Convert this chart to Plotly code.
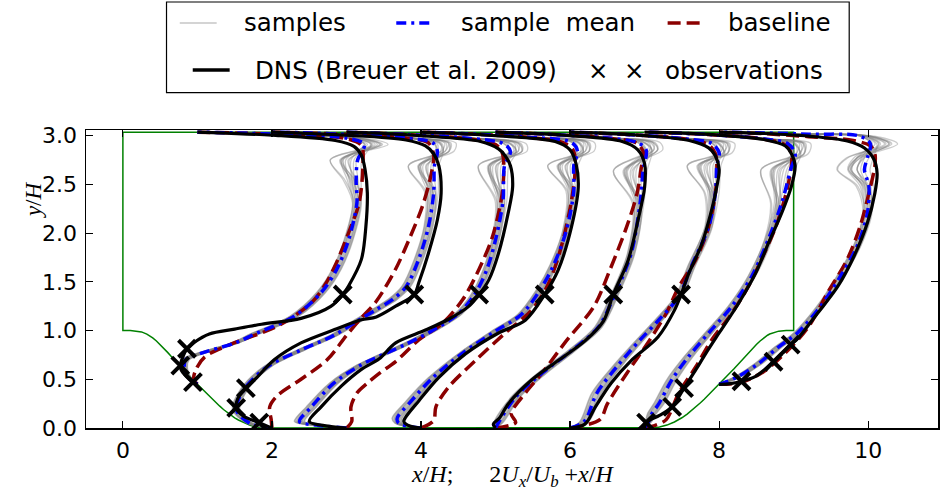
import plotly.graph_objects as go

# ---------------- data ----------------
TOP_Y = 3.036
HILL_X = [0.0, 0.1, 0.2, 0.25, 0.3214, 0.35, 0.4, 0.45, 0.5, 0.55, 0.6, 0.65, 0.7143, 0.75, 0.8, 0.85,
          0.9, 0.95, 1.0, 1.0714, 1.1, 1.2, 1.25, 1.3, 1.35, 1.4286, 1.5, 1.55, 1.6, 1.7, 1.75, 1.8, 1.85, 1.929]
HILL_Y = [1.0, 1.0, 0.994, 0.986, 0.964, 0.952, 0.925, 0.893, 0.857, 0.818, 0.776, 0.734, 0.679, 0.648, 0.607,
          0.566, 0.527, 0.487, 0.448, 0.393, 0.371, 0.295, 0.259, 0.224, 0.190, 0.143, 0.105, 0.082, 0.062,
          0.030, 0.018, 0.0096, 0.0036, 0.0]
HILL_PERIOD = 9.0

# DNS profiles (2Ux/Ub + x/H, y/H)
DNS_X = [
    [1.0, 0.94, 0.85, 0.78, 0.77, 0.8, 0.86, 0.96, 1.16, 1.5, 1.86, 2.39, 2.79, 2.95, 3.03, 3.2, 3.26, 3.28, 3.25, 3.2, 3.1, 2.85, 2.0, 1.4, 1.0],
    [2.0, 1.83, 1.62, 1.52, 1.54, 1.65, 1.8, 2.03, 2.39, 2.84, 3.2, 3.4, 3.66, 3.91, 3.97, 4.1, 4.22, 4.27, 4.24, 4.17, 4.06, 3.8, 3.0, 2.4, 2.0],
    [3.0, 2.75, 2.5, 2.66, 2.93, 3.2, 3.44, 3.66, 4.06, 4.37, 4.64, 4.78, 4.91, 5.04, 5.17, 5.23, 5.2, 5.13, 5.04, 4.8, 4.0, 3.5, 3.0],
    [4.0, 3.85, 3.77, 3.79, 3.97, 4.24, 4.6, 5.04, 5.4, 5.66, 5.84, 6.02, 6.11, 6.08, 6.0, 5.8, 5.0, 4.5, 4.0],
    [5.0, 4.97, 5.05, 5.17, 5.48, 5.84, 6.2, 6.45, 6.58, 6.78, 6.91, 7.0, 7.0, 6.91, 6.7, 6.0, 5.5, 5.0],
    [6.0, 6.2, 6.34, 6.55, 6.82, 7.18, 7.4, 7.49, 7.59, 7.77, 7.9, 7.97, 8.0, 7.95, 7.86, 7.6, 7.0, 6.5, 6.0],
    [7.0, 7.02, 7.2, 7.37, 7.53, 7.69, 7.82, 8.0, 8.26, 8.49, 8.66, 8.84, 8.97, 9.02, 8.97, 8.89, 8.6, 8.0, 7.5, 7.0],
    [8.0, 8.15, 8.3, 8.49, 8.73, 8.96, 9.05, 9.32, 9.59, 9.81, 9.99, 10.09, 10.12, 10.08, 9.95, 9.72, 9.2, 8.6, 8.0],
]
DNS_Y = [
    [0.448, 0.47, 0.53, 0.6, 0.64, 0.72, 0.813, 0.88, 0.965, 1.015, 1.065, 1.125, 1.248, 1.37, 1.46, 1.73, 2.065, 2.41, 2.65, 2.8, 2.89, 2.95, 3.005, 3.025, 3.036],
    [0.0, 0.055, 0.12, 0.207, 0.3, 0.41, 0.52, 0.7, 0.873, 1.01, 1.11, 1.14, 1.25, 1.37, 1.49, 1.793, 2.137, 2.41, 2.69, 2.814, 2.894, 2.955, 3.005, 3.025, 3.036],
    [0.0, 0.02, 0.066, 0.217, 0.43, 0.601, 0.71, 0.874, 1.005, 1.116, 1.248, 1.37, 1.52, 1.793, 2.207, 2.48, 2.692, 2.793, 2.864, 2.94, 3.0, 3.022, 3.036],
    [0.0, 0.02, 0.066, 0.106, 0.278, 0.52, 0.763, 0.975, 1.106, 1.37, 1.62, 2.066, 2.47, 2.712, 2.854, 2.94, 3.0, 3.022, 3.036],
    [0.0, 0.04, 0.1, 0.247, 0.49, 0.692, 0.894, 1.1, 1.37, 1.722, 2.127, 2.47, 2.712, 2.854, 2.94, 3.0, 3.022, 3.036],
    [0.0, 0.04, 0.217, 0.46, 0.692, 0.934, 1.207, 1.37, 1.581, 1.894, 2.238, 2.48, 2.652, 2.793, 2.874, 2.95, 3.0, 3.022, 3.036],
    [0.0, 0.056, 0.13, 0.217, 0.41, 0.601, 0.763, 0.975, 1.278, 1.59, 1.894, 2.207, 2.48, 2.692, 2.814, 2.894, 2.96, 3.005, 3.025, 3.036],
    [0.448, 0.455, 0.48, 0.53, 0.68, 0.855, 0.914, 1.177, 1.45, 1.763, 2.106, 2.41, 2.611, 2.753, 2.874, 2.945, 2.995, 3.022, 3.036],
]

# Baseline RANS profiles
BASE_X = [
    [1.0, 0.95, 0.98, 1.1, 1.45, 2.1, 2.55, 2.72, 2.85, 3.06, 3.17, 3.22, 3.2, 3.0, 2.2, 1.5, 1.0],
    [2.0, 1.99, 1.97, 2.07, 2.39, 2.74, 3.0, 3.2, 3.4, 3.66, 3.84, 4.02, 4.13, 4.17, 4.1, 3.8, 3.0, 2.5, 2.0],
    [3.0, 3.07, 3.06, 3.14, 3.28, 3.44, 3.66, 3.97, 4.29, 4.56, 4.78, 4.96, 5.09, 5.11, 5.09, 5.0, 4.6, 3.8, 3.0],
    [4.0, 4.17, 4.2, 4.37, 4.73, 5.13, 5.48, 5.71, 5.88, 6.02, 6.07, 6.04, 5.9, 5.4, 4.6, 4.0],
    [5.0, 5.27, 5.21, 5.40, 5.62, 5.96, 6.32, 6.54, 6.76, 6.9, 6.96, 6.99, 6.9, 6.5, 5.7, 5.0],
    [6.0, 6.4, 6.5, 6.76, 7.07, 7.29, 7.46, 7.69, 7.86, 7.95, 7.97, 7.95, 7.85, 7.5, 6.8, 6.0],
    [7.0, 7.15, 7.29, 7.46, 7.69, 7.9, 8.17, 8.39, 8.57, 8.76, 8.9, 8.97, 8.97, 8.9, 8.6, 7.9, 7.0],
    [8.0, 8.3, 8.6, 8.9, 9.2, 9.45, 9.72, 9.89, 10.01, 10.09, 10.09, 10.03, 9.8, 9.2, 8.6, 8.0],
]
BASE_Y = [
    [0.448, 0.5, 0.6, 0.73, 0.86, 1.055, 1.30, 1.48, 1.67, 2.066, 2.31, 2.69, 2.9, 2.97, 3.01, 3.028, 3.036],
    [0.0, 0.085, 0.217, 0.33, 0.5, 0.70, 0.95, 1.13, 1.30, 1.632, 1.935, 2.278, 2.58, 2.8, 2.925, 2.975, 3.012, 3.028, 3.036],
    [0.0, 0.066, 0.217, 0.359, 0.46, 0.56, 0.682, 0.904, 1.076, 1.318, 1.632, 1.965, 2.41, 2.692, 2.823, 2.91, 2.97, 3.012, 3.036],
    [0.0, 0.076, 0.217, 0.42, 0.692, 0.975, 1.207, 1.48, 1.854, 2.339, 2.682, 2.854, 2.93, 2.985, 3.02, 3.036],
    [0.0, 0.056, 0.146, 0.359, 0.56, 0.904, 1.247, 1.632, 2.066, 2.41, 2.692, 2.814, 2.92, 2.975, 3.015, 3.036],
    [0.0, 0.086, 0.247, 0.56, 0.904, 1.177, 1.45, 1.733, 2.066, 2.41, 2.692, 2.814, 2.91, 2.97, 3.01, 3.036],
    [0.0, 0.03, 0.086, 0.359, 0.631, 0.904, 1.177, 1.45, 1.733, 2.066, 2.41, 2.692, 2.814, 2.9, 2.965, 3.01, 3.036],
    [0.448, 0.47, 0.58, 0.78, 1.04, 1.38, 1.733, 2.066, 2.41, 2.692, 2.814, 2.894, 2.95, 2.99, 3.02, 3.036],
]

# Sample mean profiles, with the half-spread of the samples and their top wiggle
MEAN_X = [
    [1.0, 0.9, 0.83, 0.84, 1.03, 1.51, 1.77, 2.3, 2.66, 2.87, 3.03, 3.14, 3.13, 3.15, 3.24, 3.0, 2.2, 1.5, 1.0],
    [2.0, 1.7, 1.52, 1.63, 1.94, 2.39, 2.83, 3.15, 3.40, 3.62, 3.80, 3.97, 4.10, 4.17, 4.18, 4.22, 4.16, 3.8, 3.0, 2.5, 2.0],
    [3.0, 2.6, 2.37, 2.53, 2.83, 3.2, 3.45, 3.8, 4.2, 4.5, 4.72, 4.88, 5.0, 5.1, 5.12, 5.2, 5.1, 4.6, 3.8, 3.0],
    [4.0, 3.7, 3.68, 3.85, 4.15, 4.55, 5.0, 5.35, 5.6, 5.78, 5.95, 6.05, 6.05, 6.1, 6.02, 5.4, 4.6, 4.0],
    [5.0, 5.04, 5.27, 5.62, 6.02, 6.38, 6.6, 6.82, 6.94, 6.98, 7.02, 6.9, 6.5, 5.7, 5.0],
    [6.0, 6.19, 6.36, 6.63, 6.94, 7.2, 7.46, 7.63, 7.86, 7.95, 7.97, 8.0, 7.9, 7.5, 6.8, 6.0],
    [7.0, 7.05, 7.1, 7.19, 7.37, 7.59, 7.86, 8.17, 8.44, 8.66, 8.84, 8.96, 9.02, 8.92, 8.6, 7.9, 7.0],
    [8.0, 8.1, 8.26, 8.53, 8.8, 9.05, 9.36, 9.63, 9.85, 9.99, 10.01, 9.95, 9.99, 10.03, 9.89, 9.2, 8.6, 8.0],
]
MEAN_Y = [
    [0.448, 0.5, 0.6, 0.7, 0.763, 0.874, 0.965, 1.146, 1.39, 1.63, 1.935, 2.31, 2.54, 2.75, 2.91, 2.975, 3.01, 3.028, 3.036],
    [0.0, 0.05, 0.19, 0.4, 0.63, 0.8, 0.95, 1.1, 1.215, 1.32, 1.45, 1.733, 2.066, 2.41, 2.69, 2.84, 2.925, 2.975, 3.012, 3.028, 3.036],
    [0.0, 0.03, 0.066, 0.217, 0.46, 0.65, 0.74, 0.86, 1.02, 1.17, 1.37, 1.62, 1.93, 2.33, 2.69, 2.84, 2.92, 2.975, 3.012, 3.036],
    [0.0, 0.05, 0.1, 0.26, 0.51, 0.763, 0.995, 1.167, 1.42, 1.672, 2.026, 2.43, 2.692, 2.84, 2.93, 2.985, 3.02, 3.036],
    [0.0, 0.056, 0.318, 0.56, 0.793, 1.036, 1.37, 1.793, 2.309, 2.642, 2.854, 2.93, 2.975, 3.015, 3.036],
    [0.0, 0.066, 0.359, 0.631, 0.904, 1.116, 1.35, 1.662, 2.066, 2.41, 2.692, 2.824, 2.92, 2.97, 3.01, 3.036],
    [0.0, 0.06, 0.15, 0.247, 0.5, 0.732, 0.975, 1.248, 1.56, 1.935, 2.309, 2.652, 2.814, 2.92, 2.965, 3.01, 3.036],
    [0.448, 0.475, 0.53, 0.662, 0.833, 0.975, 1.248, 1.56, 1.864, 2.207, 2.48, 2.652, 2.773, 2.915, 2.995, 3.015, 3.028, 3.036],
]
SPREAD = [
    [0, 0.03, 0.04, 0.05, 0.05, 0.05, 0.06, 0.06, 0.06, 0.06, 0.06, 0.06, 0.08, 0.08, 0.08, 0.06, 0.03, 0.02, 0],
    [0, 0.04, 0.05, 0.05, 0.05, 0.05, 0.05, 0.06, 0.06, 0.06, 0.06, 0.06, 0.06, 0.07, 0.08, 0.08, 0.07, 0.05, 0.03, 0.02, 0],
    [0, 0.05, 0.07, 0.07, 0.06, 0.05, 0.05, 0.05, 0.05, 0.05, 0.05, 0.05, 0.05, 0.06, 0.08, 0.08, 0.07, 0.05, 0.03, 0],
    [0, 0.05, 0.07, 0.07, 0.06, 0.05, 0.05, 0.05, 0.05, 0.05, 0.05, 0.06, 0.08, 0.08, 0.07, 0.04, 0.02, 0],
    [0, 0.06, 0.06, 0.06, 0.05, 0.05, 0.05, 0.05, 0.06, 0.08, 0.08, 0.07, 0.05, 0.03, 0],
    [0, 0.06, 0.07, 0.06, 0.05, 0.05, 0.05, 0.05, 0.05, 0.06, 0.08, 0.08, 0.07, 0.05, 0.03, 0],
    [0, 0.04, 0.06, 0.07, 0.07, 0.06, 0.05, 0.05, 0.05, 0.05, 0.06, 0.08, 0.08, 0.07, 0.05, 0.03, 0],
    [0, 0.03, 0.04, 0.05, 0.05, 0.05, 0.05, 0.05, 0.05, 0.06, 0.08, 0.1, 0.1, 0.08, 0.05, 0.03, 0.02, 0],
]
BUMP = [
    [0, 0, 0, 0, 0, 0, 0, 0, 0, 0, 0, 0, -0.1, -0.32, 0.25, 0.2, 0.05, 0, 0],
    [0, 0, 0, 0, 0, 0, 0, 0, 0, 0, 0, 0, 0, -0.05, -0.3, 0.15, 0.25, 0.1, 0, 0, 0],
    [0, 0, 0, 0, 0, 0, 0, 0, 0, 0, 0, 0, 0, -0.05, -0.3, 0.15, 0.25, 0.1, 0, 0],
    [0, 0, 0, 0, 0, 0, 0, 0, 0, 0, 0, -0.05, -0.3, 0.15, 0.25, 0.05, 0, 0],
    [0, 0, 0, 0, 0, 0, 0, 0, -0.05, -0.35, 0.15, 0.25, 0.1, 0, 0],
    [0, 0, 0, 0, 0, 0, 0, 0, 0, -0.1, -0.35, 0.1, 0.25, 0.1, 0, 0],
    [0, 0, 0, 0, 0, 0, 0, 0, 0, 0, -0.1, -0.35, 0.1, 0.25, 0.1, 0, 0],
    [0, 0, 0, 0, 0, 0, 0, 0, 0, 0, -0.1, -0.3, -0.2, 0.3, 0.15, 0, 0, 0],
]
SAMPLE_W_SPREAD = [-1.0, -0.8, -0.6, -0.4, -0.2, 0.0, 0.2, 0.4, 0.6, 0.8, 1.0, -0.5, 0.5, -0.9, 0.9]
SAMPLE_W_BUMP = [0.9, 0.3, 1.0, 0.5, 0.1, 0.7, 0.4, 0.85, 0.2, 0.6, 0.95, 0.15, 0.75, 0.45, 0.05]

OBS_X = [0.86, 0.77, 0.94, 2.95, 1.83, 1.52, 1.65, 3.91, 4.78, 5.66, 6.58, 7.49, 7.02, 7.37, 7.53, 8.3, 8.73, 8.96]
OBS_Y = [0.813, 0.64, 0.47, 1.37, 0.055, 0.207, 0.41, 1.37, 1.37, 1.37, 1.37, 1.37, 0.056, 0.217, 0.41, 0.48, 0.68, 0.855]

X_TICKS = [0, 2, 4, 6, 8, 10]
Y_TICKS = [0.0, 0.5, 1.0, 1.5, 2.0, 2.5, 3.0]
X_RANGE = [-0.495, 10.937]
Y_RANGE = [0.0, 3.058]

LEGEND_LABELS = ["samples", "sample  mean", "baseline", "DNS (Breuer et al. 2009)", "observations"]

# ---------------- figure ----------------
W, H = 942, 501
ML, MR, MT, MB = 86, 2, 130, 73


def px(x):
    return (x - ML) / (W - ML - MR)


def py(y):
    return (H - MB - y) / (H - MT - MB)


def join(xs_list, ys_list):
    xs, ys = [], []
    for a, b in zip(xs_list, ys_list):
        xs += list(a) + [None]
        ys += list(b) + [None]
    return xs, ys


fig = go.Figure()

# geometry
gx = [0.0] + HILL_X + [HILL_PERIOD - h for h in reversed(HILL_X)] + [HILL_PERIOD, 0.0]
gy = [TOP_Y] + HILL_Y + list(reversed(HILL_Y)) + [TOP_Y, TOP_Y]
fig.add_trace(go.Scatter(x=gx, y=gy, mode="lines", line=dict(color="#008000", width=1.5),
                         showlegend=False, hoverinfo="skip"))

# samples
sx_list, sy_list = [], []
for k in range(len(MEAN_X)):
    for ws, wb in zip(SAMPLE_W_SPREAD, SAMPLE_W_BUMP):
        sx_list.append([m + ws * s + wb * b for m, s, b in zip(MEAN_X[k], SPREAD[k], BUMP[k])])
        sy_list.append(MEAN_Y[k])
sx, sy = join(sx_list, sy_list)
fig.add_trace(go.Scatter(x=sx, y=sy, mode="lines",
                         line=dict(color="rgba(128,128,128,0.4)", width=1.3, shape="spline", smoothing=0.9),
                         showlegend=False, hoverinfo="skip"))

bx, by = join(BASE_X, BASE_Y)
fig.add_trace(go.Scatter(x=bx, y=by, mode="lines",
                         line=dict(color="#8b0000", width=3.5, dash="13px,6px", shape="spline", smoothing=0.9),
                         showlegend=False, hoverinfo="skip"))

mx, my = join(MEAN_X, MEAN_Y)
fig.add_trace(go.Scatter(x=mx, y=my, mode="lines",
                         line=dict(color="#0000ff", width=3.5, dash="10px,5px,3px,5px", shape="spline", smoothing=0.9),
                         showlegend=False, hoverinfo="skip"))

dx, dy = join(DNS_X, DNS_Y)
fig.add_trace(go.Scatter(x=dx, y=dy, mode="lines",
                         line=dict(color="black", width=3.2, shape="spline", smoothing=0.9),
                         showlegend=False, hoverinfo="skip"))

fig.add_trace(go.Scatter(x=OBS_X, y=OBS_Y, mode="markers",
                         marker=dict(symbol="x-thin", size=17, line=dict(width=4, color="black"), color="black"),
                         showlegend=False, hoverinfo="skip"))

axis_common = dict(showgrid=False, zeroline=False, showline=True, linecolor="black", linewidth=1.5,
                   mirror="ticks", ticks="inside", ticklen=7, tickwidth=1.2, tickcolor="black",
                   tickfont=dict(family="DejaVu Sans", size=22, color="black"))
fig.update_xaxes(range=X_RANGE, tickvals=X_TICKS, ticklabelstandoff=2, **axis_common)
fig.update_yaxes(range=Y_RANGE, tickvals=Y_TICKS, tickformat=".1f", ticklabelstandoff=3, **axis_common)

shapes = []
annotations = []
# legend frame
shapes.append(dict(type="rect", xref="paper", yref="paper", x0=px(166.7), x1=px(851), y0=py(92.7), y1=py(2),
                   line=dict(color="black", width=1.2), fillcolor="white", layer="above"))
shapes.append(dict(type="line", xref="paper", yref="paper", x0=px(180), x1=px(217), y0=py(23), y1=py(23),
                   line=dict(color="rgba(128,128,128,0.45)", width=1.5)))
shapes.append(dict(type="line", xref="paper", yref="paper", x0=px(397), x1=px(432), y0=py(23), y1=py(23),
                   line=dict(color="#0000ff", width=3.5, dash="10px,5px,3px,5px")))
shapes.append(dict(type="line", xref="paper", yref="paper", x0=px(669), x1=px(705), y0=py(23), y1=py(23),
                   line=dict(color="#8b0000", width=3.5, dash="13px,6px")))
shapes.append(dict(type="line", xref="paper", yref="paper", x0=px(193), x1=px(230), y0=py(70), y1=py(70),
                   line=dict(color="black", width=3.5)))

leg_font = dict(family="DejaVu Sans", size=24.5, color="black")
for label, (lx, ly) in zip(LEGEND_LABELS, [(242, 23), (460, 23), (728, 23), (253.5, 70), (664.5, 70)]):
    annotations.append(dict(text=label, xref="paper", yref="paper", x=px(lx), y=py(ly),
                            xanchor="left", yanchor="middle", showarrow=False, font=leg_font))
for cx in (600, 636):
    annotations.append(dict(text="\u00d7", xref="paper", yref="paper", x=px(cx), y=py(70),
                            xanchor="center", yanchor="middle", showarrow=False, font=leg_font))

# axis titles
annotations.append(dict(
    text="<i>x</i>/<i>H</i>;      2<i>U</i><sub><i>x</i></sub>/<i>U</i><sub><i>b</i></sub> +<i>x</i>/<i>H</i>",
    xref="paper", yref="paper", x=px(513), y=py(476), xanchor="center", yanchor="middle",
    showarrow=False, font=dict(family="Liberation Serif", size=24, color="black")))
annotations.append(dict(
    text="<i>y</i>/<i>H</i>", textangle=-90,
    xref="paper", yref="paper", x=px(33), y=py(200), xanchor="center", yanchor="middle",
    showarrow=False, font=dict(family="Liberation Serif", size=23, color="black")))

fig.update_layout(width=W, height=H, margin=dict(l=ML, r=MR, t=MT, b=MB),
                  paper_bgcolor="white", plot_bgcolor="white", showlegend=False,
                  shapes=shapes, annotations=annotations)

fig.write_html("out.html", config={"displayModeBar": False, "staticPlot": True},
               post_script="document.body.style.margin='0px';document.body.style.overflow='hidden';")
